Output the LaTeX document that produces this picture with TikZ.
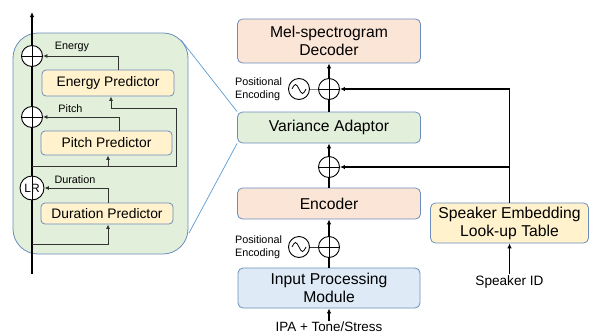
\documentclass[tikz,border=0pt]{standalone}
\usepackage{fontspec}
\setmainfont{Liberation Sans}
\usetikzlibrary{arrows.meta}
\definecolor{peachfill}{HTML}{FBE5D6}
\definecolor{greenfill}{HTML}{E2EFDA}
\definecolor{bluefill}{HTML}{DEEBF7}
\definecolor{yellowfill}{HTML}{FFF2CC}
\definecolor{boxline}{HTML}{6C8EBF}
\definecolor{zoomline}{HTML}{5B9BD5}
\begin{document}
\begin{tikzpicture}[x=1pt,y=1pt,
        mainbox/.style={draw=boxline,rectangle,rounded corners=5pt,line width=0.8pt,minimum width=183pt,align=center,font=\fontsize{15.7}{18}\selectfont},
        predbox/.style={draw=boxline,fill=yellowfill,rectangle,rounded corners=4pt,line width=0.8pt,minimum width=132pt,font=\fontsize{13.8}{16}\selectfont},
        adder/.style={circle,draw,fill=white,line width=0.9pt,minimum size=21pt,inner sep=0pt,
          path picture={\draw[line width=0.9pt] (path picture bounding box.north) -- (path picture bounding box.south)
            (path picture bounding box.west) -- (path picture bounding box.east);}},
        sine/.style={circle,draw,fill=white,line width=0.9pt,minimum size=21pt,inner sep=0pt,
          path picture={\draw[line width=0.8pt] ([xshift=-7pt]path picture bounding box.center)
            sin ++(3.5pt,4.5pt) cos ++(3.5pt,-4.5pt) sin ++(3.5pt,-4.5pt) cos ++(3.5pt,4.5pt);}},
        tag/.style={inner sep=1pt,font=\fontsize{10.8}{13.5}\selectfont},
        flow/.style={line width=1.1pt,-{Latex[length=5pt,width=4.5pt]}},
        subflow/.style={line width=0.9pt,draw=black!80,-{Latex[length=4.5pt,width=4pt]}}
      ]
      \useasboundingbox (0,0) rectangle (589,-335);
      % variance adaptor in detail
      \node[draw=boxline,fill=greenfill,rounded corners=25pt,line width=0.8pt,minimum width=175pt,minimum height=221pt] (panel) at (100.5,-143.5) {};
      \node[predbox,minimum height=26pt] (ep) at (108,-83) {Energy Predictor};
      \node[predbox,minimum width=131pt,minimum height=24pt] (pp) at (106.5,-143) {Pitch Predictor};
      \node[predbox,minimum height=21pt] (dp) at (107,-213.5) {Duration Predictor};
      \coordinate (axbot) at (32,-274);
      \coordinate (axtop) at (32,-12);
      \coordinate (br) at (32,-166);
      \coordinate (bt) at (32,-244);
      \draw[flow] (axbot) -- (axtop);
      \node[adder] (ea) at (32,-56) {};
      \node[adder] (pa) at (32,-117) {};
      \node[circle,draw,fill=white,line width=0.9pt,minimum size=24pt,inner sep=0pt,font=\fontsize{12}{12}\selectfont] (lr) at (32,-188) {LR};
      \draw[line width=0.9pt] (lr.north) -- (lr.south);
      \draw[subflow] ([xshift=10pt]ep.north) |- (ea);
      \draw[subflow] ([xshift=12.5pt]pp.north) |- (pa);
      \draw[subflow] ([xshift=1pt]dp.north) |- (lr);
      \draw[subflow] (br) -| (176,-108) -| ([xshift=3pt]ep.south);
      \draw[subflow] (br -| pp.south) ++(1.5pt,0) -- ([xshift=1.5pt]pp.south);
      \draw[subflow] (bt) -| ([xshift=1pt]dp.south);
      \node[tag] (tenergy) at (72,-47) {Energy};
      \node[tag] (tpitch) at (70.5,-109) {Pitch};
      \node[tag] (tduration) at (75,-180) {Duration};

      % main model
      \node[mainbox,fill=peachfill,minimum height=44pt] (dec) at (329,-41) {Mel-spectrogram\\Decoder};
      \node[mainbox,fill=greenfill,minimum height=31pt] (va) at (329,-127.5) {Variance Adaptor};
      \node[mainbox,fill=peachfill,minimum height=31pt] (enc) at (329,-203.5) {Encoder};
      \node[mainbox,fill=bluefill,minimum height=40pt,minimum width=182pt] (inp) at (329,-288) {Input Processing\\Module};
      \node[mainbox,fill=yellowfill,minimum height=40pt,minimum width=158pt] (spk) at (509.5,-223) {Speaker Embedding\\Look-up Table};
      \node[font=\fontsize{13.4}{16}\selectfont,inner sep=1pt] (ipa) at (329,-327) {IPA + Tone/Stress};
      \node[font=\fontsize{13.6}{16}\selectfont,inner sep=1pt] (sid) at (509.5,-282) {Speaker ID};
      \draw[zoomline,line width=0.7pt] (181,-40) -- (va.north west);
      \draw[zoomline,line width=0.7pt] (189,-233) -- (va.south west);

      \draw[flow] (va.north) -- (dec.south);
      \draw[flow] (enc.north) -- (va.south);
      \draw[flow] (inp.north) -- (enc.south);
      \draw[flow] (ipa.north) -- (inp.south);
      \draw[flow] (sid.north) -- (spk.south);

      \node[adder] (a3) at (329,-89) {};
      \node[sine] (s3) at (299,-89) {};
      \node[adder] (a2) at (329,-167) {};
      \node[adder] (a1) at (329,-247) {};
      \node[sine] (s1) at (299,-247) {};
      \draw[line width=0.9pt] (a3.north) -- (a3.south) (a2.north) -- (a2.south) (a1.north) -- (a1.south);
      \draw[gray,line width=0.9pt] (s3) -- (a3);
      \draw[black!80,line width=0.9pt] (s1) -- (a1);
      \draw[flow] (spk.north) |- (a3);
      \draw[flow] (spk.north) |- (a2);
      \node[tag,align=left] (pe3) at (258.5,-89) {Positional\\Encoding};
      \node[tag,align=left] (pe1) at (258.5,-247) {Positional\\Encoding};
    \end{tikzpicture}
\end{document}
